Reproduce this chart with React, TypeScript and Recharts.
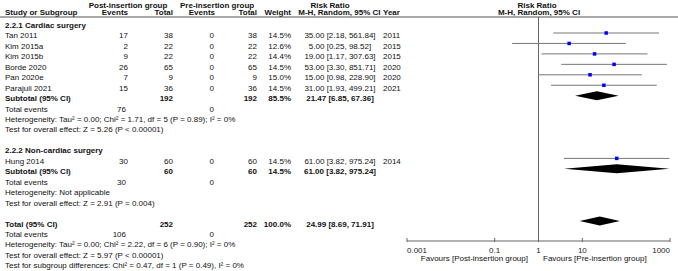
import { ComposedChart, XAxis, YAxis, Scatter, Area, ErrorBar, ReferenceLine } from 'recharts'

// Forest plot: post- vs pre-insertion group, risk ratio (M-H, random, 95% CI)

const W = 678
const H = 271
const FONT = '"Liberation Sans", Arial, sans-serif'
const FS = 8

// study level data
const studies = ['Tan 2011', 'Kim 2015a', 'Kim 2015b', 'Borde 2020', 'Pan 2020e', 'Parajuli 2021', 'Hung 2014']
const postEvents = [17, 2, 9, 26, 7, 15, 30]
const postTotal = [38, 22, 22, 65, 9, 36, 60]
const preEvents = [0, 0, 0, 0, 0, 0, 0]
const preTotal = [38, 22, 22, 65, 9, 36, 60]
const weights = ['14.5%', '12.6%', '14.4%', '14.5%', '15.0%', '14.5%', '14.5%']
const rr = [35.0, 5.0, 19.0, 53.0, 15.0, 31.0, 61.0]
const rrLo = [2.18, 0.25, 1.17, 3.3, 0.98, 1.93, 3.82]
const rrHi = [561.84, 98.52, 307.63, 851.71, 228.9, 499.21, 975.24]
const years = [2011, 2015, 2015, 2020, 2020, 2021, 2014]
const studyRows = [1, 2, 3, 4, 5, 6, 13]

// pooled estimates (subtotal 2.2.1, subtotal 2.2.2, overall)
const pooledLabels = ['Subtotal (95% CI)', 'Subtotal (95% CI)', 'Total (95% CI)']
const pooledPostTotal = [192, 60, 252]
const pooledPreTotal = [192, 60, 252]
const pooledWeight = ['85.5%', '14.5%', '100.0%']
const pooledRR = [21.47, 61.0, 24.99]
const pooledLo = [6.85, 3.82, 8.69]
const pooledHi = [67.36, 975.24, 71.91]
const pooledRows = [7, 14, 19]

const totalEventsPost = [76, 30, 106]
const totalEventsPre = [0, 0, 0]
const totalEventsRows = [8, 15, 20]

const notes = [
  { row: 9, text: 'Heterogeneity: Tau² = 0.00; Chi² = 1.71, df = 5 (P = 0.89); I² = 0%' },
  { row: 10, text: 'Test for overall effect: Z = 5.26 (P < 0.00001)' },
  { row: 16, text: 'Heterogeneity: Not applicable' },
  { row: 17, text: 'Test for overall effect: Z = 2.91 (P = 0.004)' },
  { row: 21, text: 'Heterogeneity: Tau² = 0.00; Chi² = 2.22, df = 6 (P = 0.90); I² = 0%' },
  { row: 22, text: 'Test for overall effect: Z = 5.97 (P < 0.00001)' },
  { row: 23, text: 'Test for subgroup differences: Chi² = 0.47, df = 1 (P = 0.49), I² = 0%' },
]
const groups = [
  { row: 0, text: '2.2.1 Cardiac surgery' },
  { row: 12, text: '2.2.2 Non-cardiac surgery' },
]

const xTicks = [0.001, 0.1, 1, 10, 1000]

// row index -> pixel (for the text table only)
const ROW0 = 22.55
const ROWH = 10.45
const rowY = (r: number) => ROW0 + r * ROWH
const PLOT_TOP = 17
const PLOT_BOTTOM = 241
const yDomain = [(PLOT_TOP - ROW0) / ROWH, (PLOT_BOTTOM - ROW0) / ROWH]

const points = studies.map((s, i) => ({
  name: s,
  x: rr[i],
  y: studyRows[i],
  err: [rr[i] - rrLo[i], rrHi[i] - rr[i]],
}))

const diamonds = pooledRR.map((v, i) => [
  { x: pooledLo[i], range: [pooledRows[i], pooledRows[i]] },
  { x: v, range: [pooledRows[i] - 0.43, pooledRows[i] + 0.43] },
  { x: pooledHi[i], range: [pooledRows[i], pooledRows[i]] },
])

const Square = (p: any) => (
  <rect x={p.cx - 1.75} y={p.cy - 1.75} width={3.5} height={3.5} fill="#0000FF" />
)

const Tick = (p: any) => {
  const v = p.payload.value
  const anchor = v === xTicks[0] ? 'start' : v === xTicks[xTicks.length - 1] ? 'end' : 'middle'
  return (
    <g>
      <line x1={p.x} x2={p.x} y1={p.y - 3} y2={p.y + 1} stroke="#666" />
      <text x={p.x} y={p.y + 12} textAnchor={anchor} fontSize={FS} fontFamily={FONT} fill="#222">
        {String(v)}
      </text>
    </g>
  )
}

const C = { ev1: 128, tot1: 173, ev2: 214, tot2: 257, wt: 291, ci: 340, yr: 383 }

const T = ({ x, r, children, anchor = 'start', bold = false }: any) => (
  <text x={x} y={rowY(r) + 5.4} textAnchor={anchor} fontWeight={bold ? 'bold' : 'normal'}>
    {children}
  </text>
)

function Table() {
  return (
    <svg width={W} height={H} style={{ position: 'absolute', left: 0, top: 0, pointerEvents: 'none' }}
      fontFamily={FONT} fontSize={FS} fill="#111">
      {/* header */}
      <g fontWeight="bold">
        <text x={128} y={7.5} textAnchor="middle">Post-insertion group</text>
        <text x={180} y={7.5}>Pre-insertion group</text>
        <text x={330} y={7.5} textAnchor="middle">Risk Ratio</text>
        <text x={537} y={7.5} textAnchor="middle">Risk Ratio</text>
        <text x={5} y={15.3}>Study or Subgroup</text>
        <text x={C.ev1} y={15.3} textAnchor="end">Events</text>
        <text x={C.tot1} y={15.3} textAnchor="end">Total</text>
        <text x={C.ev2 + 1} y={15.3} textAnchor="end">Events</text>
        <text x={C.tot2} y={15.3} textAnchor="end">Total</text>
        <text x={C.wt} y={15.3} textAnchor="end">Weight</text>
        <text x={380.5} y={15.3} textAnchor="end">M-H, Random, 95% CI</text>
        <text x={C.yr} y={15.3}>Year</text>
        <text x={539} y={15.3} textAnchor="middle">M-H, Random, 95% CI</text>
      </g>
      <line x1={0} x2={W} y1={17} y2={17} stroke="#555" strokeWidth={1} />

      {groups.map(g => <T key={g.text} x={5} r={g.row} bold>{g.text}</T>)}

      {studies.map((s, i) => (
        <g key={s}>
          <T x={5} r={studyRows[i]}>{s}</T>
          <T x={C.ev1} r={studyRows[i]} anchor="end">{postEvents[i]}</T>
          <T x={C.tot1} r={studyRows[i]} anchor="end">{postTotal[i]}</T>
          <T x={C.ev2} r={studyRows[i]} anchor="end">{preEvents[i]}</T>
          <T x={C.tot2} r={studyRows[i]} anchor="end">{preTotal[i]}</T>
          <T x={C.wt} r={studyRows[i]} anchor="end">{weights[i]}</T>
          <T x={C.ci} r={studyRows[i]} anchor="middle">
            {`${rr[i].toFixed(2)} [${rrLo[i].toFixed(2)}, ${rrHi[i].toFixed(2)}]`}
          </T>
          <T x={C.yr} r={studyRows[i]}>{years[i]}</T>
        </g>
      ))}

      {pooledLabels.map((l, i) => (
        <g key={i} fontWeight="bold">
          <T x={5} r={pooledRows[i]} bold>{l}</T>
          <T x={C.tot1} r={pooledRows[i]} anchor="end" bold>{pooledPostTotal[i]}</T>
          <T x={C.tot2} r={pooledRows[i]} anchor="end" bold>{pooledPreTotal[i]}</T>
          <T x={C.wt} r={pooledRows[i]} anchor="end" bold>{pooledWeight[i]}</T>
          <T x={C.ci} r={pooledRows[i]} anchor="middle" bold>
            {`${pooledRR[i].toFixed(2)} [${pooledLo[i].toFixed(2)}, ${pooledHi[i].toFixed(2)}]`}
          </T>
        </g>
      ))}

      {totalEventsRows.map((r, i) => (
        <g key={r}>
          <T x={5} r={r}>Total events</T>
          <T x={C.ev1 - 2} r={r} anchor="end">{totalEventsPost[i]}</T>
          <T x={C.ev2} r={r} anchor="end">{totalEventsPre[i]}</T>
        </g>
      ))}

      {notes.map(n => <T key={n.row} x={5} r={n.row}>{n.text}</T>)}

      <text x={528} y={261} textAnchor="end">Favours [Post-insertion group]</text>
      <text x={543} y={261}>Favours [Pre-insertion group]</text>
    </svg>
  )
}

export default function App() {
  return (
    <div style={{ position: 'absolute', left: 0, top: 0, width: W, height: H, background: '#fff' }}>
      <ComposedChart
        width={W}
        height={H}
        margin={{ top: PLOT_TOP, right: 8, bottom: 0, left: 407 }}
      >
        <XAxis
          dataKey="x"
          type="number"
          scale="log"
          domain={[0.001, 1000]}
          allowDataOverflow
          ticks={xTicks}
          interval={0}
          height={H - PLOT_BOTTOM}
          tickSize={0}
          tickMargin={0}
          tickLine={false}
          axisLine={{ stroke: '#666' }}
          tick={<Tick />}
        />
        <YAxis dataKey="y" type="number" hide reversed domain={yDomain} allowDataOverflow />
        <ReferenceLine x={1} stroke="#666" ifOverflow="visible" />
        {diamonds.map((d, i) => (
          <Area
            key={i}
            data={d}
            dataKey="range"
            type="linear"
            stroke="none"
            fill="#000"
            fillOpacity={1}
            dot={false}
            activeDot={false}
            isAnimationActive={false}
          />
        ))}
        <Scatter data={points} shape={<Square />} isAnimationActive={false}>
          <ErrorBar dataKey="err" direction="x" width={0} stroke="#777" strokeWidth={1} />
        </Scatter>
      </ComposedChart>
      <Table />
    </div>
  )
}
